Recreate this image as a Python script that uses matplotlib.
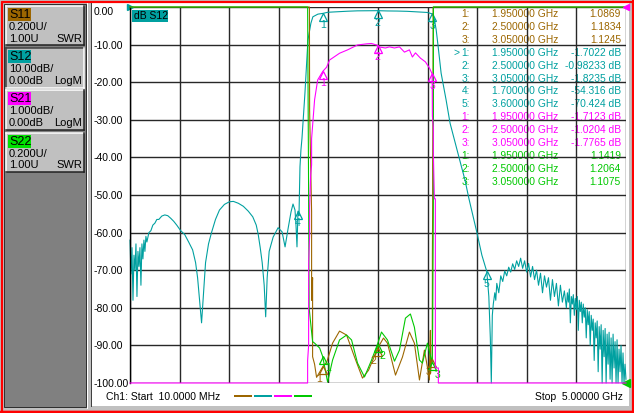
import numpy as np
import matplotlib
matplotlib.use('Agg')
import matplotlib.pyplot as plt
from matplotlib.patches import Rectangle
from matplotlib.transforms import offset_copy

plt.rcParams['font.family'] = ['Liberation Sans', 'DejaVu Sans']

W, H = 634, 413
PX = 0.72  # one pixel in points at 100 dpi

c11, c12, c21, c22 = '#9c6600', '#00a0a0', '#ff00ff', '#00c800'

f_start, f_stop = 0.01, 5.0  # GHz

# S12 (dB, 10 dB/div) up to the upper skirt
s12_f = [0.01, 0.02, 0.03, 0.04, 0.05, 0.06, 0.07, 0.08, 0.09, 0.10,
         0.11, 0.12, 0.13, 0.14, 0.15, 0.16, 0.17, 0.18, 0.20,
         0.22, 0.24, 0.26, 0.28, 0.30, 0.33, 0.36, 0.39, 0.42, 0.45,
         0.48, 0.52, 0.56, 0.60, 0.64, 0.67, 0.69, 0.71, 0.73, 0.75,
         0.77, 0.80, 0.83, 0.87, 0.91, 0.96, 1.01, 1.05, 1.10, 1.15,
         1.20, 1.245, 1.28, 1.30, 1.32, 1.34, 1.36, 1.375, 1.39, 1.41,
         1.45, 1.50, 1.54, 1.57, 1.60, 1.63, 1.65, 1.67, 1.68, 1.69,
         1.70, 1.71, 1.72, 1.73, 1.74, 1.77, 1.80, 1.83, 1.85, 1.90,
         1.95, 2.00, 2.10, 2.20, 2.30, 2.40, 2.50, 2.60, 2.70, 2.80,
         2.90, 3.00, 3.05, 3.07, 3.09, 3.11, 3.14, 3.19, 3.23, 3.28,
         3.33, 3.38, 3.42, 3.46, 3.50, 3.55, 3.60, 3.62, 3.635, 3.645,
         3.655, 3.665, 3.68, 3.69]
s12_db = [-62, -71, -64, -78, -66, -70, -63, -77, -65, -69,
          -64, -74, -63, -67, -62, -65, -61, -62.5, -60,
          -59.5, -58, -57.5, -56.5, -56.5, -55.6, -55.3, -55.5, -56.2, -57,
          -58, -59.5, -60.5, -62.5, -64.6, -68, -72, -78, -84, -76,
          -68, -63, -60, -56.5, -54, -52.5, -51.8, -51.7, -52.2, -53,
          -54.3, -55.8, -58, -60.5, -64, -68, -74, -82.4, -72, -65,
          -61.2, -58.7, -59.8, -63.8, -59, -54.5, -52.4, -54.0, -58, -63.8,
          -54.3, -55.5, -42.5, -37.9, -35.0, -22.9, -8.8, -4.3, -2.6, -1.9,
          -1.70, -1.4, -1.25, -1.12, -1.02, -0.99, -0.98, -1.05, -1.08, -1.15,
          -1.3, -1.45, -1.82, -3.0, -6.0, -10.5, -17.6, -24.7, -30.9, -36.0,
          -41.0, -46.0, -51.0, -55.5, -60.0, -66.0, -70.4, -77, -88, -100,
          -82, -79, -76, -78]

# S12 noisy upper stopband
s12_tail_f = [3.70, 3.72, 3.74, 3.76, 3.78, 3.80, 3.82, 3.84, 3.86, 3.88,
              3.90, 3.92, 3.94, 3.96, 3.98, 4.00, 4.02, 4.04, 4.06, 4.08,
              4.10, 4.12, 4.14, 4.16, 4.18, 4.20, 4.22, 4.24, 4.26, 4.28,
              4.30, 4.32, 4.34, 4.36, 4.38,
              4.40, 4.41, 4.42, 4.43, 4.44, 4.45, 4.46, 4.47, 4.48, 4.49,
              4.50, 4.51, 4.52, 4.53, 4.54, 4.55, 4.56, 4.57, 4.58, 4.59,
              4.60, 4.61, 4.62, 4.63, 4.64, 4.65, 4.66, 4.67, 4.68, 4.69,
              4.70, 4.71, 4.72, 4.73, 4.74, 4.75, 4.76, 4.77, 4.78, 4.79,
              4.80, 4.81, 4.82, 4.83, 4.84, 4.85, 4.86, 4.87, 4.88, 4.89,
              4.90, 4.91, 4.92, 4.93, 4.94, 4.95, 4.96, 4.97, 4.98, 4.99,
              5.00]
s12_tail_db = [-73.5, -76, -71.5, -73, -70.2, -71.5, -69.2, -70.5, -68.3, -69.8,
               -67.5, -69.0, -66.8, -69.5, -67.5, -70.5, -68.2, -71.8, -69.0, -72.5,
               -70.0, -74.0, -70.8, -76.0, -71.5, -74.5, -72.0, -78.0, -72.5, -77.0,
               -73.5, -79.5, -74.0, -78.5, -75.5,
               -80, -76, -78.5, -75, -84, -77, -79, -76.5, -82, -77.5,
               -80.5, -77, -86, -78, -81, -78.5, -84, -79, -82.5, -80,
               -88, -80.5, -84.5, -81, -90, -82, -86, -83, -94, -84,
               -88, -83.5, -97, -85, -91, -84.5, -100, -86, -93, -85.5,
               -100, -87, -95, -86.5, -99, -88, -100, -87, -96, -89,
               -100, -88.5, -100, -91, -97, -90, -100, -92, -100, -95,
               -99]

# S21 (dB, 1 dB/div, display clamps at -10 dB)
s21_f = [0.01, 1.797, 1.797, 1.807, 1.807, 1.817, 1.817, 1.827, 1.837, 1.837,
         1.867, 1.898, 1.95, 1.988, 2.018, 2.118, 2.199, 2.299, 2.39, 2.44,
         2.50, 2.51, 2.58, 2.62, 2.671, 2.721, 2.771, 2.821, 2.851, 2.882,
         2.932, 2.982, 3.022, 3.05, 3.052, 3.062, 3.062, 3.072, 3.082, 3.082,
         3.112, 3.112, 5.0]
s21_db = [-10, -10, -9.4, -9.0, -6.8, -6.1, -5.3, -4.5, -4.2, -3.5,
          -2.47, -1.94, -1.71, -1.60, -1.41, -1.23, -1.14, -1.01, -0.98, -0.97,
          -1.02, -1.06, -1.09, -1.06, -1.09, -1.06, -1.20, -1.14, -1.33, -1.22,
          -1.36, -1.46, -1.62, -1.78, -2.9, -3.2, -3.9, -5.1, -5.1, -9.6,
          -9.6, -10, -10]

# S11 (SWR, 0.2/div, ref 1.00 at bottom, display clamps at 3.0)
s11_f = [0.01, 1.815, 1.817, 1.837, 1.837, 1.847, 1.847, 1.867, 1.887, 1.95,
         1.99, 2.048, 2.118, 2.189, 2.269, 2.349, 2.41, 2.50, 2.56, 2.60,
         2.681, 2.751, 2.821, 2.871, 2.922, 2.972, 3.00, 3.022, 3.032, 3.032,
         3.042, 3.05, 3.052, 3.052, 3.055, 3.055, 3.058, 3.06, 5.0]
s11_swr = [3.0, 3.0, 2.45, 1.91, 1.44, 1.56, 1.14, 1.10, 1.03, 1.0869,
           1.112, 1.212, 1.276, 1.255, 1.138, 1.026, 1.068, 1.1834, 1.239, 1.212,
           1.042, 1.138, 1.271, 1.212, 1.016, 1.175, 1.09, 1.016, 1.28, 1.05,
           1.10, 1.1245, 1.55, 1.68, 1.95, 2.16, 2.45, 3.0, 3.0]

# S22 (SWR)
s22_f = [0.01, 1.797, 1.807, 1.812, 1.847, 1.867, 1.918, 1.948, 1.998, 2.048,
         2.118, 2.189, 2.239, 2.299, 2.369, 2.44, 2.50, 2.54, 2.60, 2.671,
         2.721, 2.781, 2.831, 2.871, 2.922, 2.952, 3.002, 3.03, 3.05, 3.055,
         3.062, 3.062, 5.0]
s22_swr = [3.0, 3.0, 2.0, 1.4, 1.22, 1.212, 1.186, 1.1419, 1.005, 1.122,
           1.229, 1.255, 1.229, 1.106, 1.032, 1.122, 1.2064, 1.271, 1.229, 1.116,
           1.175, 1.345, 1.367, 1.297, 1.122, 1.106, 1.212, 1.15, 1.1075, 1.3,
           2.0, 3.0, 3.0]

# markers
mk_f = [1.95, 2.50, 3.05]
mk12_f = [1.95, 2.50, 3.05, 1.70, 3.60]
mk11 = [1.0869, 1.1834, 1.1245]
mk12 = [-1.7022, -0.98233, -1.8235, -54.316, -70.424]
mk21 = [-1.7123, -1.0204, -1.7765]
mk22 = [1.1419, 1.2064, 1.1075]

table_rows = [
    ('1:', '1.950000 GHz', '1.0869', c11),
    ('2:', '2.500000 GHz', '1.1834', c11),
    ('3:', '3.050000 GHz', '1.1245', c11),
    ('1:', '1.950000 GHz', '-1.7022 dB', c12),
    ('2:', '2.500000 GHz', '-0.98233 dB', c12),
    ('3:', '3.050000 GHz', '-1.8235 dB', c12),
    ('4:', '1.700000 GHz', '-54.316 dB', c12),
    ('5:', '3.600000 GHz', '-70.424 dB', c12),
    ('1:', '1.950000 GHz', '-1.7123 dB', c21),
    ('2:', '2.500000 GHz', '-1.0204 dB', c21),
    ('3:', '3.050000 GHz', '-1.7765 dB', c21),
    ('1:', '1.950000 GHz', '1.1419', c22),
    ('2:', '2.500000 GHz', '1.2064', c22),
    ('3:', '3.050000 GHz', '1.1075', c22),
]

y_ticks = [0, -10, -20, -30, -40, -50, -60, -70, -80, -90, -100]
y_labels = ['0.00', '-10.00', '-20.00', '-30.00', '-40.00', '-50.00',
            '-60.00', '-70.00', '-80.00', '-90.00', '-100.00']

fig = plt.figure(figsize=(6.34, 4.13), dpi=100)
fig.patch.set_facecolor('#c0c0c0')

# screen furniture drawn in pixel coordinates
bg = fig.add_axes([0, 0, 1, 1])
bg.set_xlim(0, W)
bg.set_ylim(H, 0)
bg.axis('off')
bg.set_zorder(0)

bg.add_patch(Rectangle((92, 3), 537, 403, fc='white', ec='none'))
bg.add_patch(Rectangle((0.5, 0.5), W - 1, H - 1, fill=False, ec='red', lw=1.2 * PX))
bg.add_patch(Rectangle((2, 2), W - 4, H - 4, fill=False, ec='red', lw=1.2 * PX))
bg.plot([0, W], [411.5, 411.5], color='red', lw=2.5 * PX)
bg.plot([632.5, 632.5], [0, H], color='red', lw=2 * PX)
bg.add_patch(Rectangle((4, 4), 82, 403, fc='#808080', ec='#303030', lw=PX))
bg.plot([87, 87], [3, 408], color='white', lw=PX)
bg.plot([91, 91], [3, 406], color='#404040', lw=PX)


def channel_box(y0, y1, tag, tag_col, line1, line2, kind, pressed=False):
    bg.add_patch(Rectangle((6, y0), 78, y1 - y0, fc='#c0c0c0', ec='none'))
    lite, dark = ('#404040', 'white') if pressed else ('white', '#202020')
    bg.plot([6, 84], [y0, y0], color=lite, lw=1.5 * PX)
    bg.plot([6, 6], [y0, y1], color=lite, lw=1.5 * PX)
    bg.plot([6, 84], [y1, y1], color=dark, lw=1.5 * PX)
    bg.plot([84, 84], [y0, y1], color=dark, lw=1.5 * PX)
    bg.add_patch(Rectangle((8, y0 + 2), 23, 13, fc=tag_col, ec='none'))
    bg.text(9, y0 + 8.8, tag, fontsize=9, va='center', ha='left', color='black')
    bg.text(9, y0 + 21, line1, fontsize=8, va='center', ha='left')
    bg.text(9, y0 + 32.5, line2, fontsize=8, va='center', ha='left')
    bg.text(82, y0 + 32.5, kind, fontsize=8, va='center', ha='right')


channel_box(6, 45, 'S11', c11, '0.200U/', '1.00U', 'SWR')
channel_box(48, 88, 'S12', c12, '10.00dB/', '0.00dB', 'LogM', pressed=True)
channel_box(90, 130, 'S21', c21, '1.000dB/', '0.00dB', 'LogM')
channel_box(133, 172, 'S22', '#00e000', '0.200U/', '1.00U', 'SWR')

# marker readout table
for i, (idx, fr, val, col) in enumerate(table_rows):
    yy = 14 + 12.9 * i
    bg.text(470, yy, idx, fontsize=7.4, color=col, ha='right', va='center')
    bg.text(492, yy, fr, fontsize=7.4, color=col, ha='left', va='center')
    bg.text(621, yy, val, fontsize=7.4, color=col, ha='right', va='center')
bg.text(453, 14 + 12.9 * 3, '>', fontsize=7.4, color=c12, ha='left', va='center')

# active trace badge
bg.add_patch(Rectangle((132, 10), 36, 12, fc=c12, ec='none'))
bg.text(134, 16.3, 'dB S12', fontsize=7.5, va='center', ha='left', color='black')

# status line
bg.text(106, 397, 'Ch1: Start  10.0000 MHz', fontsize=7.5, va='center', ha='left')
bg.text(623, 397, 'Stop  5.00000 GHz', fontsize=7.5, va='center', ha='right')
for x0, col in zip([234, 254, 274, 294], [c11, c12, c21, c22]):
    bg.plot([x0, x0 + 18], [396, 396], color=col, lw=2 * PX, solid_capstyle='butt')

# measurement graticule (S12 scale)
ax = fig.add_axes([130 / W, (H - 383) / H, 496 / W, 376 / H])
ax.set_zorder(2)
ax.patch.set_visible(False)
ax.set_xlim(f_start, f_stop)
ax.set_ylim(-100, 0)
ax.set_xticks(np.linspace(f_start, f_stop, 11))
ax.set_yticks(y_ticks, y_labels)
ax.grid(True, color='#282828', lw=1.4 * PX)
ax.tick_params(axis='x', length=0, labelbottom=False)
ax.tick_params(axis='y', length=0, pad=36 * PX, labelsize=7.5)
for lbl in ax.get_yticklabels():
    lbl.set_ha('left')
ax.get_yticklabels()[0].set_va('top')
for s in ['top', 'right', 'bottom']:
    ax.spines[s].set_visible(False)
ax.spines['left'].set_color('black')
ax.spines['left'].set_linewidth(1.4 * PX)

ax_swr = ax.twinx()
ax_swr.set_ylim(1, 3)
ax_swr.axis('off')
ax_swr.set_zorder(3)

ax_21 = ax.twinx()
ax_21.set_ylim(-10, 0)
ax_21.axis('off')
ax_21.set_zorder(4)

lw = 1.1 * PX
ax.plot(s12_f + s12_tail_f, s12_db + s12_tail_db, color=c12, lw=lw, clip_on=False)
ax_swr.plot(s11_f, s11_swr, color=c11, lw=lw, clip_on=False)
ax_swr.plot(s22_f, s22_swr, color=c22, lw=lw, clip_on=False)
ax_21.plot(s21_f, s21_db, color=c21, lw=lw, clip_on=False)


def draw_markers(a, fs, vals, col, dx=0):
    tri = offset_copy(a.transData, fig=fig, x=0, y=-3.5, units='dots')
    lab = offset_copy(a.transData, fig=fig, x=dx, y=-12, units='dots')
    for n, (f, v) in enumerate(zip(fs, vals), start=1):
        a.plot(f, v, marker='^', ms=5.5, mfc='none', mec=col, mew=0.9,
               transform=tri, clip_on=False)
        a.text(f, v, str(n), transform=lab, fontsize=7.5, color=col,
               ha='center', va='center')


draw_markers(ax, mk12_f, mk12, c12)
draw_markers(ax_swr, mk_f, mk11, c11, dx=-4)
draw_markers(ax_swr, mk_f, mk22, c22, dx=5)
draw_markers(ax_21, mk_f, mk21, c21)

# reference level arrows
ax.plot(0, 1, marker='>', ms=5, color=c12, transform=ax.transAxes, clip_on=False)
ax_21.plot(1, 1, marker='<', ms=5, color=c21, transform=ax_21.transAxes, clip_on=False)
ax_swr.plot(1, 0, marker='<', ms=6, color=c22, transform=ax_swr.transAxes, clip_on=False)

fig.savefig('out.png', dpi=100, facecolor=fig.get_facecolor())
